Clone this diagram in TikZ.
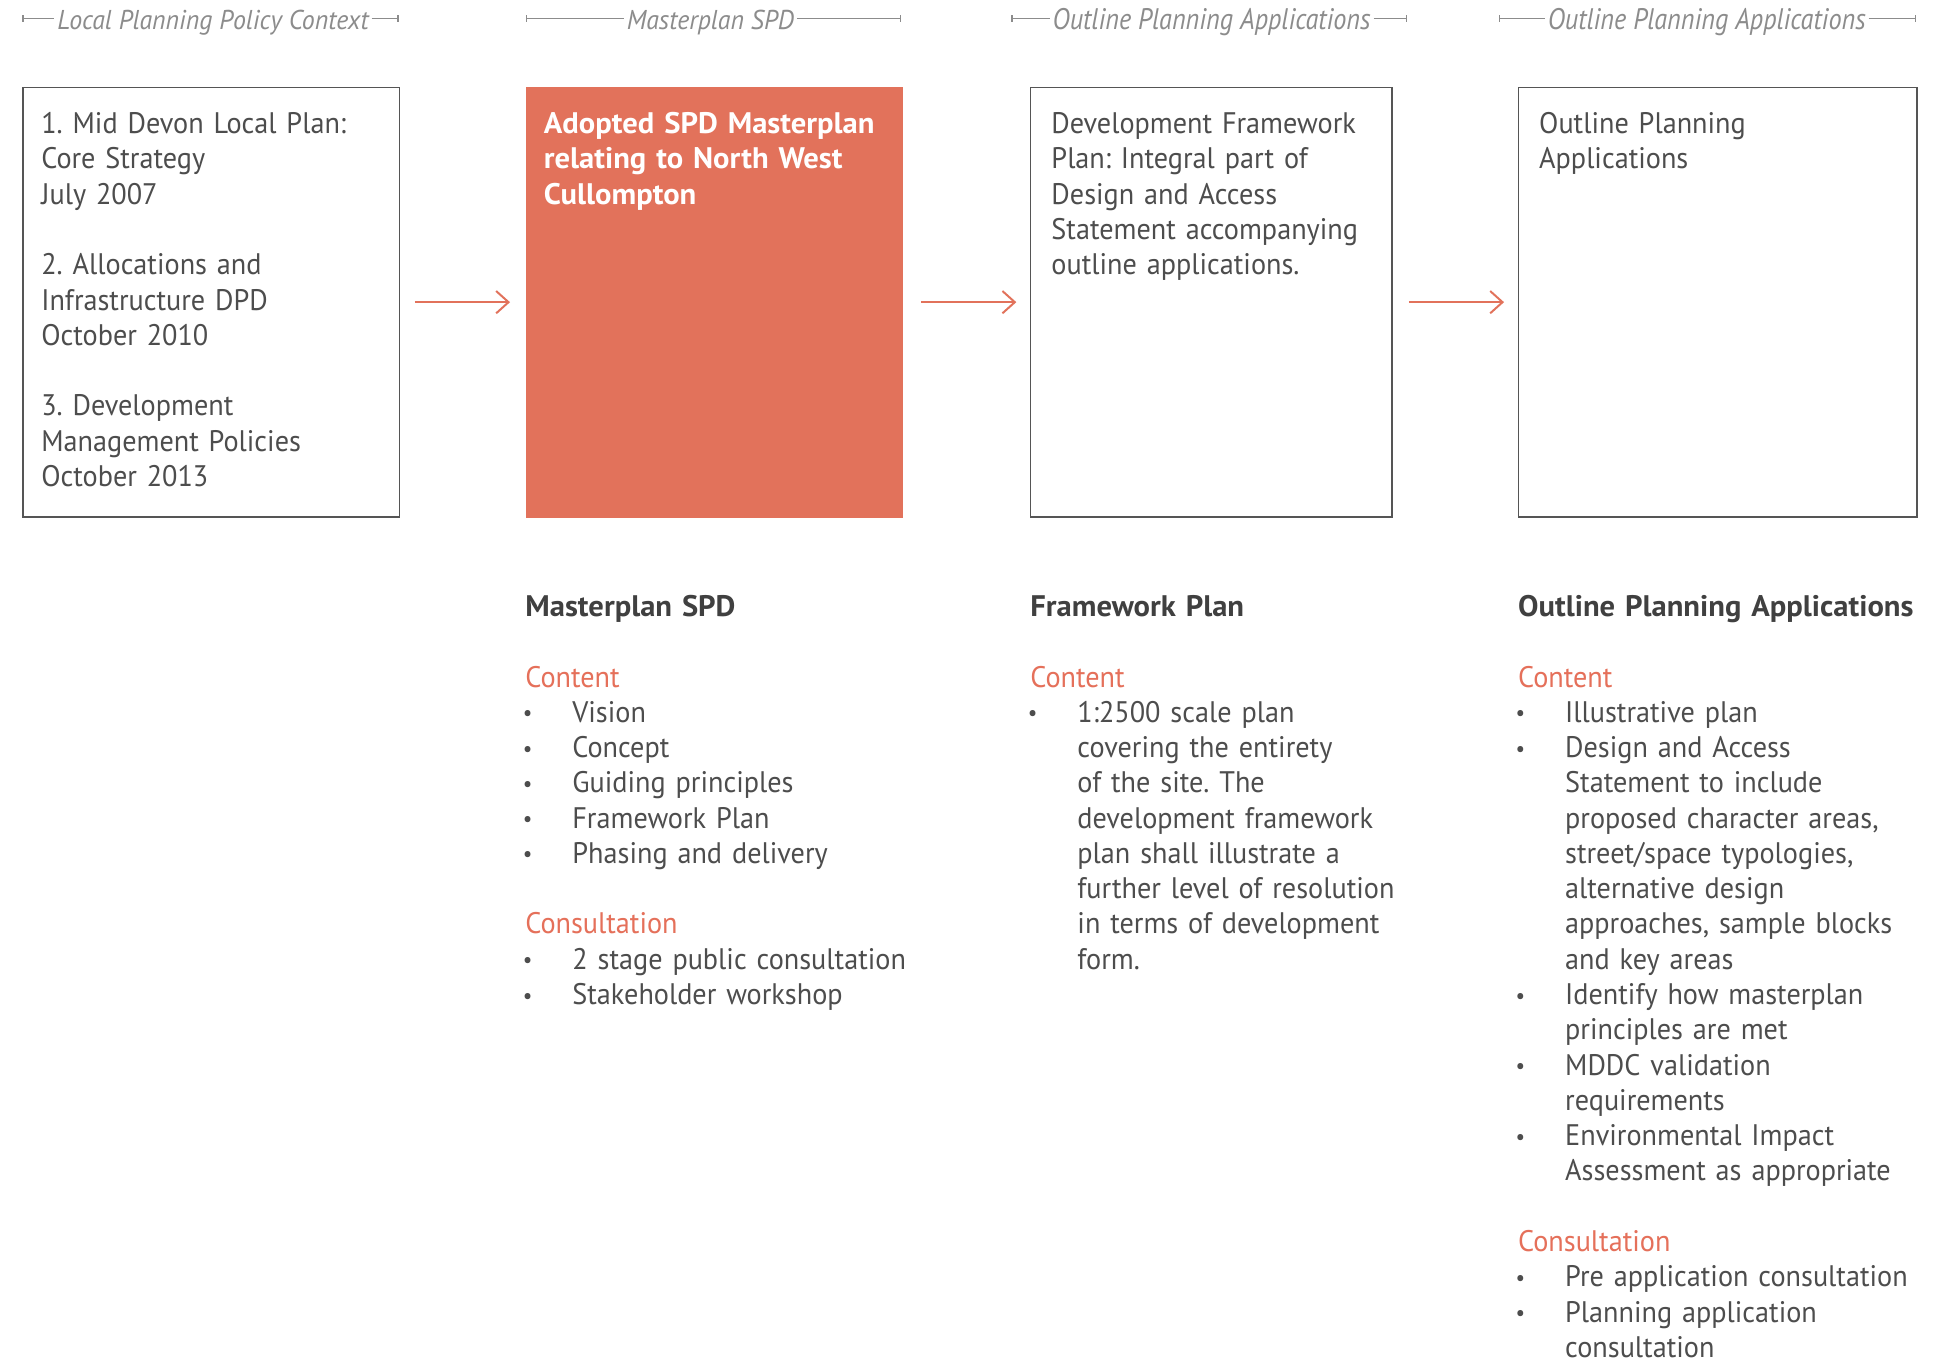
\documentclass[tikz,border=0pt]{standalone}
\usepackage{graphicx}
\usepackage{fontspec}
\setmainfont{PT Sans}[FakeStretch=0.95]
\newfontfamily\widebold{PT Sans}[FakeStretch=1.03]
\usetikzlibrary{arrows.meta}
\definecolor{txt}{HTML}{4D4D4D}
\definecolor{hd}{HTML}{404040}
\definecolor{orfill}{HTML}{E2725B}
\definecolor{ortxt}{HTML}{E5705A}
\definecolor{hgray}{HTML}{8C8C8C}
\definecolor{bord}{HTML}{555555}
\newcommand\bul{\makebox[19pt][l]{\hspace{-1pt}\raisebox{0.6pt}{\scalebox{0.75}{•}}}}
\newcommand\ind{\hspace*{19pt}}
\newcommand\gap{\\[14.25pt]}
\newcommand\ora[1]{{\color{ortxt}#1}}
\newcommand\hdg[1]{{\widebold\bfseries\color{hd}#1}}
\frenchspacing
\begin{document}
\begin{tikzpicture}[x=0.5pt,y=-0.5pt,
  box/.style={draw=bord, line width=0.6pt, anchor=north west, inner sep=0pt, minimum height=173.5pt},
  body/.style={anchor=base west, inner sep=0pt, text width=200pt, align=left,
    font=\fontsize{12pt}{14.25pt}\selectfont\frenchspacing, text=txt},
  hdr/.style={font=\fontsize{11pt}{12pt}\selectfont\itshape, text=hgray, anchor=base west, inner sep=1pt},
  hdrn/.style={font=\fontsize{12pt}{14pt}\selectfont\itshape, text=hgray, anchor=base west, inner sep=1pt},
  hlinel/.style={draw=hgray, line width=0.5pt, {Bar[width=2.5pt]}-},
  hliner/.style={draw=hgray, line width=0.5pt, -{Bar[width=2.5pt]}},
  flow/.style={draw=orfill, line width=0.8pt, -{Straight Barb[length=5pt,width=9pt]}},
]
\useasboundingbox[fill=white] (0,0) rectangle (1568,1099);

% headers
\node[hdr] (h1) at (44,24) {Local Planning Policy Context};
\coordinate (h1a) at (18,15); \coordinate (h1b) at (322,15);
\draw[hlinel] (h1a) -- (h1a -| h1.west);
\draw[hliner] (h1.east |- h1b) -- (h1b);

\node[hdr] (h2) at (504,24) {Masterplan SPD};
\coordinate (h2a) at (425,15); \coordinate (h2b) at (728,15);
\draw[hlinel] (h2a) -- (h2a -| h2.west);
\draw[hliner] (h2.east |- h2b) -- (h2b);

\node[hdrn] (h3) at (848,24) {\scalebox{0.93}[1]{Outline Planning Applications}};
\coordinate (h3a) at (817,15); \coordinate (h3b) at (1137,15);
\draw[hlinel] (h3a) -- (h3a -| h3.west);
\draw[hliner] (h3.east |- h3b) -- (h3b);

\node[hdrn] (h4) at (1248,24) {\scalebox{0.93}[1]{Outline Planning Applications}};
\coordinate (h4a) at (1211,15); \coordinate (h4b) at (1548,15);
\draw[hlinel] (h4a) -- (h4a -| h4.west);
\draw[hliner] (h4.east |- h4b) -- (h4b);

% boxes
\node[box, minimum width=152pt] (b1) at (18,70) {};
\node[box, draw=orfill, fill=orfill, minimum width=151.5pt] (b2) at (425,70) {};
\node[box, minimum width=146pt] (b3) at (832,70) {};
\node[box, minimum width=161pt] (b4) at (1226,70) {};

% box texts
\node[body] (t1) at (33,108) {1. Mid Devon Local Plan:\\Core Strategy\\July 2007\gap
2. Allocations and\\Infrastructure DPD\\October 2010\gap
3. Development\\Management Policies\\October 2013};
\node[body, text=white, font=\fontsize{12pt}{14.25pt}\selectfont\widebold\bfseries] (t2) at (439,108)
  {Adopted SPD Masterplan\\relating to North West\\Cullompton};
\node[body] (t3) at (849,108) {Development Framework\\Plan: Integral part of\\Design and Access\\Statement accompanying\\outline applications.};
\node[body] (t4) at (1243,108) {Outline Planning\\Applications};

% arrows
\draw[flow] ([xshift=6pt]b1.east) -- ([xshift=-6.5pt]b2.west);
\draw[flow] ([xshift=7.5pt]b2.east) -- ([xshift=-5.5pt]b3.west);
\draw[flow] ([xshift=6.5pt]b3.east) -- ([xshift=-5.5pt]b4.west);

% columns
\node[body] (c2) at (424,498) {\hdg{Masterplan SPD}\gap
\ora{Content}\\
\bul Vision\\
\bul Concept\\
\bul Guiding principles\\
\bul Framework Plan\\
\bul Phasing and delivery\gap
\ora{Consultation}\\
\bul 2 stage public consultation\\
\bul Stakeholder workshop};

\node[body] (c3) at (832,498) {\hdg{Framework Plan}\gap
\ora{Content}\\
\bul 1:2500 scale plan\\
\ind covering the entirety\\
\ind of the site. The\\
\ind development framework\\
\ind plan shall illustrate a\\
\ind further level of resolution\\
\ind in terms of development\\
\ind form.};

\node[body] (c4) at (1226,498) {\hdg{Outline Planning Applications}\gap
\ora{Content}\\
\bul Illustrative plan\\
\bul Design and Access\\
\ind Statement to include\\
\ind proposed character areas,\\
\ind street/space typologies,\\
\ind alternative design\\
\ind approaches, sample blocks\\
\ind and key areas\\
\bul Identify how masterplan\\
\ind principles are met\\
\bul MDDC validation\\
\ind requirements\\
\bul Environmental Impact\\
\ind Assessment as appropriate\gap
\ora{Consultation}\\
\bul Pre application consultation\\
\bul Planning application\\
\ind consultation};
\end{tikzpicture}
\end{document}
